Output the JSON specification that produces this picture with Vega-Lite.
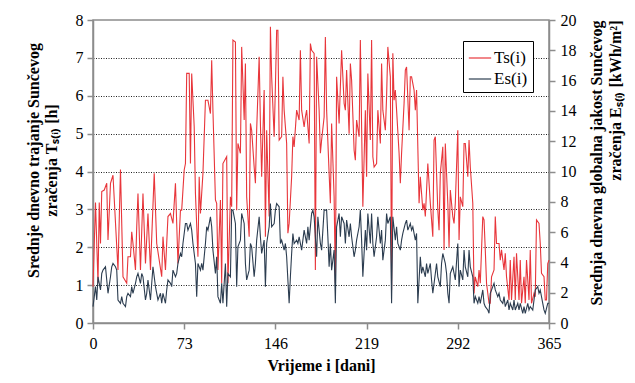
{
  "$schema": "https://vega.github.io/schema/vega-lite/v6.json",
  "autosize": "none",
  "width": 456,
  "height": 303,
  "padding": {"left": 93, "top": 20, "right": 86, "bottom": 60},
  "background": "white",
  "config": {
    "font": "Liberation Serif",
    "view": {"stroke": "#8c8c8c", "strokeWidth": 1.5},
    "axis": {
      "labelFont": "Liberation Serif", "labelFontSize": 16, "labelColor": "black",
      "titleFont": "Liberation Serif", "titleFontSize": 16, "titleFontWeight": "bold", "titleColor": "black",
      "domainColor": "#8c8c8c", "domainWidth": 1.5, "tickColor": "#8c8c8c", "tickWidth": 1.5, "tickSize": 6
    }
  },
  "datasets": {
    "ts": [
      {"d":0,"v":0.96},{"d":2,"v":3.18},{"d":4,"v":1.05},{"d":5,"v":3.18},{"d":6,"v":2.10},{"d":7,"v":3.47},{"d":9,"v":3.51},{"d":11,"v":3.69},{"d":12,"v":2.19},{"d":14,"v":3.69},{"d":16,"v":3.90},{"d":20,"v":1.40},{"d":22,"v":4.05},{"d":24,"v":1.22},{"d":27,"v":1.05},{"d":28,"v":1.75},{"d":30,"v":1.75},{"d":31,"v":2.41},{"d":32,"v":2.10},{"d":34,"v":1.40},{"d":35,"v":2.54},{"d":36,"v":3.42},{"d":38,"v":1.40},{"d":40,"v":3.42},{"d":42,"v":1.57},{"d":44,"v":2.89},{"d":46,"v":1.40},{"d":49,"v":3.95},{"d":51,"v":2.10},{"d":55,"v":1.22},{"d":56,"v":2.28},{"d":58,"v":1.40},{"d":60,"v":2.81},{"d":62,"v":2.89},{"d":64,"v":2.63},{"d":66,"v":3.69},{"d":68,"v":1.57},{"d":70,"v":2.98},{"d":71,"v":2.98},{"d":73,"v":4.04},{"d":74,"v":4.21},{"d":75,"v":6.59},{"d":77,"v":6.59},{"d":78,"v":4.21},{"d":79,"v":6.59},{"d":81,"v":5.18},{"d":82,"v":3.42},{"d":84,"v":1.75},{"d":85,"v":3.86},{"d":86,"v":2.89},{"d":88,"v":3.95},
      {"d":90,"v":5.88},{"d":92,"v":5.88},{"d":94,"v":5.53},{"d":95,"v":6.94},{"d":96,"v":5.62},{"d":98,"v":3.25},{"d":99,"v":3.16},{"d":100,"v":1.40},{"d":102,"v":3.25},{"d":103,"v":1.05},{"d":104,"v":4.21},{"d":107,"v":4.39},{"d":108,"v":1.05},{"d":110,"v":3.33},{"d":111,"v":3.07},{"d":112,"v":7.47},{"d":114,"v":7.42},{"d":115,"v":2.98},{"d":116,"v":4.74},{"d":118,"v":4.48},{"d":119,"v":7.29},{"d":121,"v":5.36},{"d":122,"v":6.85},{"d":123,"v":3.33},{"d":125,"v":2.28},{"d":126,"v":5.27},{"d":127,"v":5.09},{"d":129,"v":4.12},{"d":130,"v":3.69},{"d":131,"v":5.09},{"d":133,"v":7.03},{"d":134,"v":5.27},{"d":135,"v":3.86},{"d":137,"v":6.15},{"d":138,"v":2.28},{"d":139,"v":5.09},{"d":141,"v":2.81},{"d":142,"v":7.82},{"d":143,"v":6.50},{"d":145,"v":4.92},{"d":146,"v":6.24},{"d":147,"v":7.73},{"d":148,"v":7.73},{"d":149,"v":4.83},{"d":151,"v":4.92},{"d":152,"v":6.50},{"d":153,"v":5.62},{"d":155,"v":4.74},{"d":156,"v":2.37},{"d":157,"v":2.63},{"d":159,"v":3.86},{"d":160,"v":4.92},{"d":161,"v":4.65},{"d":163,"v":5.62},{"d":165,"v":5.36},{"d":166,"v":7.20},{"d":167,"v":5.62},{"d":169,"v":5.18},{"d":170,"v":5.44},{"d":171,"v":5.62},{"d":173,"v":4.74},{"d":174,"v":7.38},{"d":175,"v":7.20},{"d":177,"v":7.12},{"d":178,"v":1.40},{"d":179,"v":7.03},{"d":181,"v":5.62},{"d":182,"v":4.48},{"d":183,"v":4.83},{"d":185,"v":5.44},{"d":186,"v":7.55},
      {"d":187,"v":5.62},{"d":189,"v":3.95},{"d":190,"v":3.16},{"d":191,"v":5.27},{"d":193,"v":3.33},{"d":194,"v":1.05},{"d":195,"v":6.50},{"d":197,"v":5.27},{"d":198,"v":6.24},{"d":199,"v":7.20},{"d":201,"v":5.80},{"d":202,"v":5.62},{"d":203,"v":6.68},{"d":205,"v":5.00},{"d":206,"v":6.85},{"d":207,"v":6.41},{"d":209,"v":4.56},{"d":210,"v":4.30},{"d":211,"v":5.36},{"d":213,"v":4.92},{"d":214,"v":7.47},{"d":215,"v":5.18},{"d":216,"v":3.07},{"d":218,"v":5.62},{"d":219,"v":3.86},{"d":220,"v":6.59},{"d":222,"v":4.83},{"d":223,"v":7.47},{"d":224,"v":4.39},{"d":225,"v":4.12},{"d":227,"v":4.21},{"d":228,"v":5.62},{"d":230,"v":4.74},{"d":231,"v":6.85},{"d":232,"v":5.62},{"d":234,"v":5.09},{"d":235,"v":5.97},{"d":236,"v":7.29},{"d":238,"v":6.50},{"d":239,"v":0.87},{"d":240,"v":7.12},{"d":241,"v":5.88},{"d":242,"v":6.15},{"d":243,"v":5.62},{"d":245,"v":4.48},{"d":246,"v":3.69},{"d":247,"v":4.48},{"d":249,"v":5.80},{"d":250,"v":6.68},{"d":251,"v":6.76},{"d":253,"v":5.09},{"d":254,"v":6.50},{"d":255,"v":6.50},{"d":257,"v":6.15},{"d":258,"v":5.62},{"d":259,"v":6.15},{"d":261,"v":3.16},{"d":262,"v":3.86},{"d":264,"v":2.98},{"d":265,"v":3.16},{"d":266,"v":2.81},{"d":268,"v":4.21},{"d":269,"v":3.69},{"d":270,"v":3.16},{"d":272,"v":2.28},{"d":273,"v":4.83},{"d":274,"v":4.92},{"d":276,"v":2.98},{"d":277,"v":2.45},{"d":278,"v":3.95},{"d":280,"v":4.65},{"d":281,"v":1.93},{"d":282,"v":4.74},{"d":284,"v":3.16},
      {"d":285,"v":2.01},{"d":286,"v":3.51},{"d":288,"v":2.81},{"d":289,"v":2.63},{"d":290,"v":3.16},{"d":292,"v":5.09},{"d":293,"v":2.19},{"d":294,"v":3.33},{"d":296,"v":3.07},{"d":297,"v":4.74},{"d":298,"v":4.74},{"d":300,"v":3.86},{"d":301,"v":4.83},{"d":302,"v":4.12},{"d":304,"v":3.16},{"d":305,"v":0.78},{"d":306,"v":1.22},{"d":308,"v":0.96},{"d":309,"v":1.40},{"d":310,"v":1.05},{"d":312,"v":2.81},{"d":313,"v":2.72},{"d":314,"v":1.93},{"d":315,"v":1.05},{"d":317,"v":0.52},{"d":318,"v":0.52},{"d":319,"v":1.22},{"d":321,"v":1.40},{"d":322,"v":2.81},{"d":323,"v":2.10},{"d":325,"v":2.10},{"d":326,"v":1.66},{"d":327,"v":1.93},{"d":329,"v":1.40},{"d":330,"v":1.84},{"d":331,"v":1.22},{"d":333,"v":0.61},{"d":334,"v":1.66},{"d":335,"v":0.61},{"d":337,"v":1.75},{"d":338,"v":0.61},{"d":339,"v":1.84},{"d":341,"v":0.61},{"d":342,"v":1.66},{"d":343,"v":0.52},{"d":345,"v":1.22},{"d":346,"v":0.52},{"d":347,"v":1.66},{"d":349,"v":0.61},{"d":350,"v":1.93},{"d":351,"v":0.52},{"d":353,"v":0.78},{"d":354,"v":0.69},{"d":355,"v":2.72},{"d":357,"v":2.63},{"d":358,"v":2.10},{"d":359,"v":1.31},{"d":361,"v":1.22},{"d":362,"v":0.61},{"d":363,"v":0.61},{"d":364,"v":1.57},{"d":365,"v":1.66}
    ],
    "es": [
      {"d":0,"v":1.08},{"d":2,"v":2.40},{"d":3,"v":1.52},{"d":4,"v":3.05},{"d":6,"v":2.18},{"d":7,"v":3.27},{"d":8,"v":3.49},{"d":10,"v":3.71},{"d":11,"v":2.84},{"d":12,"v":1.96},{"d":14,"v":3.05},{"d":15,"v":3.71},{"d":16,"v":3.93},{"d":18,"v":3.71},{"d":19,"v":3.49},{"d":20,"v":1.52},{"d":22,"v":1.30},{"d":23,"v":1.74},{"d":24,"v":1.30},{"d":26,"v":1.08},{"d":27,"v":1.74},{"d":28,"v":1.96},{"d":30,"v":1.74},{"d":31,"v":2.40},{"d":32,"v":1.96},{"d":34,"v":2.62},{"d":35,"v":3.05},{"d":36,"v":3.27},{"d":38,"v":2.62},{"d":39,"v":3.27},{"d":40,"v":3.05},{"d":42,"v":1.52},{"d":43,"v":1.96},{"d":44,"v":2.84},{"d":46,"v":1.52},{"d":47,"v":2.62},{"d":48,"v":3.71},{"d":50,"v":2.40},{"d":51,"v":1.96},{"d":52,"v":1.52},{"d":54,"v":1.96},{"d":55,"v":1.30},{"d":56,"v":1.96},{"d":58,"v":1.30},{"d":59,"v":2.18},{"d":60,"v":2.84},{"d":62,"v":2.62},{"d":63,"v":2.40},{"d":64,"v":3.49},{"d":66,"v":3.05},{"d":67,"v":3.27},{"d":68,"v":3.93},{"d":70,"v":4.59},{"d":71,"v":4.37},{"d":72,"v":5.25},{"d":74,"v":6.57},{"d":75,"v":6.57},{"d":76,"v":6.13},{"d":78,"v":6.57},{"d":79,"v":6.13},{"d":80,"v":5.25},{"d":82,"v":3.93},{"d":83,"v":1.74},{"d":84,"v":3.93},{"d":86,"v":3.49},{"d":87,"v":3.93},{"d":88,"v":3.49},{"d":90,"v":5.25},{"d":91,"v":6.35},
      {"d":92,"v":6.13},{"d":94,"v":7.01},{"d":95,"v":6.35},{"d":96,"v":4.81},{"d":98,"v":3.27},{"d":99,"v":4.37},{"d":100,"v":1.74},{"d":102,"v":1.30},{"d":103,"v":2.62},{"d":104,"v":1.30},{"d":106,"v":3.93},{"d":107,"v":1.08},{"d":108,"v":3.27},{"d":110,"v":3.05},{"d":111,"v":7.45},{"d":112,"v":7.45},{"d":114,"v":6.57},{"d":115,"v":2.40},{"d":116,"v":5.03},{"d":118,"v":5.47},{"d":119,"v":7.23},{"d":121,"v":6.57},{"d":122,"v":3.93},{"d":123,"v":2.84},{"d":125,"v":3.49},{"d":126,"v":5.25},{"d":127,"v":5.03},{"d":129,"v":3.05},{"d":130,"v":3.93},{"d":131,"v":5.47},{"d":133,"v":7.01},{"d":134,"v":5.69},{"d":135,"v":4.59},{"d":137,"v":5.47},{"d":138,"v":2.40},{"d":139,"v":5.25},{"d":141,"v":6.35},{"d":142,"v":7.89},{"d":143,"v":6.35},{"d":145,"v":6.57},{"d":146,"v":7.45},{"d":147,"v":7.89},{"d":149,"v":7.67},{"d":150,"v":5.25},{"d":151,"v":5.47},{"d":153,"v":4.81},{"d":154,"v":5.25},{"d":155,"v":4.37},{"d":157,"v":1.30},{"d":158,"v":3.05},{"d":159,"v":4.59},{"d":160,"v":5.91},{"d":161,"v":5.25},{"d":163,"v":5.47},{"d":164,"v":5.25},{"d":165,"v":5.69},{"d":167,"v":4.81},{"d":168,"v":5.47},{"d":169,"v":6.13},{"d":171,"v":5.25},{"d":172,"v":6.35},{"d":173,"v":5.47},{"d":175,"v":7.23},{"d":176,"v":7.45},{"d":177,"v":7.01},{"d":179,"v":4.37},{"d":180,"v":7.01},{"d":182,"v":5.25},{"d":183,"v":4.81},{"d":184,"v":6.13},{"d":185,"v":7.45},{"d":187,"v":7.45},{"d":188,"v":5.69},{"d":189,"v":3.71},
      {"d":190,"v":5.25},{"d":191,"v":3.49},{"d":193,"v":4.81},{"d":194,"v":1.30},{"d":195,"v":6.35},{"d":197,"v":7.23},{"d":198,"v":5.69},{"d":199,"v":7.01},{"d":201,"v":6.57},{"d":202,"v":5.25},{"d":203,"v":6.79},{"d":205,"v":5.69},{"d":206,"v":6.57},{"d":207,"v":5.69},{"d":209,"v":4.37},{"d":210,"v":4.81},{"d":211,"v":5.47},{"d":213,"v":6.35},{"d":214,"v":7.45},{"d":215,"v":5.47},{"d":216,"v":3.05},{"d":218,"v":6.13},{"d":219,"v":4.81},{"d":220,"v":7.23},{"d":222,"v":5.25},{"d":223,"v":7.23},{"d":224,"v":5.25},{"d":225,"v":4.37},{"d":227,"v":5.69},{"d":228,"v":7.01},{"d":230,"v":5.25},{"d":231,"v":6.13},{"d":232,"v":4.15},{"d":234,"v":5.47},{"d":235,"v":7.23},{"d":236,"v":6.57},{"d":238,"v":7.01},{"d":239,"v":1.30},{"d":240,"v":7.01},{"d":242,"v":5.47},{"d":243,"v":6.35},{"d":244,"v":5.25},{"d":246,"v":4.81},{"d":247,"v":5.47},{"d":248,"v":5.91},{"d":250,"v":6.57},{"d":251,"v":6.79},{"d":252,"v":6.13},{"d":254,"v":6.57},{"d":255,"v":6.13},{"d":256,"v":6.35},{"d":258,"v":5.47},{"d":259,"v":5.91},{"d":260,"v":1.30},{"d":262,"v":4.37},{"d":263,"v":3.27},{"d":264,"v":3.71},{"d":266,"v":3.05},{"d":267,"v":3.93},{"d":268,"v":3.27},{"d":270,"v":3.93},{"d":271,"v":2.84},{"d":272,"v":1.96},{"d":274,"v":3.27},{"d":275,"v":3.93},{"d":276,"v":3.05},{"d":278,"v":2.40},{"d":279,"v":3.93},{"d":280,"v":4.59},{"d":282,"v":3.93},{"d":283,"v":3.27},{"d":284,"v":1.96},
      {"d":285,"v":1.30},{"d":286,"v":3.27},{"d":288,"v":3.71},{"d":289,"v":3.27},{"d":290,"v":2.84},{"d":292,"v":5.25},{"d":293,"v":2.40},{"d":294,"v":3.49},{"d":296,"v":2.84},{"d":297,"v":4.81},{"d":298,"v":3.71},{"d":300,"v":3.05},{"d":301,"v":4.81},{"d":302,"v":3.71},{"d":304,"v":3.05},{"d":305,"v":1.30},{"d":306,"v":1.74},{"d":308,"v":1.30},{"d":309,"v":1.74},{"d":310,"v":1.30},{"d":312,"v":2.18},{"d":313,"v":1.30},{"d":314,"v":1.08},{"d":316,"v":0.86},{"d":317,"v":0.64},{"d":318,"v":1.96},{"d":320,"v":2.40},{"d":321,"v":2.62},{"d":322,"v":2.18},{"d":324,"v":1.74},{"d":325,"v":1.96},{"d":326,"v":1.52},{"d":328,"v":1.30},{"d":329,"v":1.74},{"d":330,"v":1.08},{"d":332,"v":1.52},{"d":333,"v":0.86},{"d":334,"v":1.30},{"d":336,"v":0.86},{"d":337,"v":1.52},{"d":338,"v":0.86},{"d":340,"v":1.30},{"d":341,"v":0.86},{"d":342,"v":1.30},{"d":344,"v":0.64},{"d":345,"v":1.08},{"d":346,"v":0.64},{"d":348,"v":1.30},{"d":349,"v":0.86},{"d":350,"v":1.08},{"d":352,"v":0.86},{"d":353,"v":1.52},{"d":354,"v":2.18},{"d":356,"v":2.40},{"d":357,"v":1.96},{"d":358,"v":2.18},{"d":360,"v":1.30},{"d":361,"v":0.86},{"d":362,"v":0.64},{"d":364,"v":1.30},{"d":365,"v":1.30}
    ]
  },
  "layer": [
    {
      "data": {"name": "ts"},
      "mark": {"type": "line", "strokeWidth": 1.1},
      "encoding": {
        "x": {
          "field": "d", "type": "quantitative",
          "scale": {"domain": [0, 365], "nice": false, "zero": false},
          "axis": {
            "values": [0, 73, 146, 219, 292, 365], "grid": false,
            "labelPadding": 6, "labelFlush": false,
            "title": "Vrijeme i [dani]", "titlePadding": 6
          }
        },
        "y": {
          "field": "v", "type": "quantitative",
          "scale": {"domain": [0, 8], "nice": false},
          "axis": {
            "orient": "left", "values": [0, 1, 2, 3, 4, 5, 6, 7, 8],
            "labelPadding": 4,
            "grid": true, "gridDash": [1, 1.5], "gridWidth": 1,
            "gridColor": {"condition": {"test": "datum.value == 0 || datum.value == 8", "value": "transparent"}, "value": "#222222"},
            "title": ["Srednje dnevno trajanje  Sunčevog", "zračenja Tₛ₍ᵢ₎ [h]"],
            "titleAngle": -90, "titleAlign": "center", "titleBaseline": "middle",
            "titleX": -60, "titleY": 140, "titleLineHeight": 18
          }
        },
        "color": {
          "datum": "Ts(i)", "type": "nominal",
          "scale": {"domain": ["Ts(i)", "Es(i)"], "range": ["#e8363b", "#2c3d50"]},
          "legend": {
            "orient": "none", "legendX": 370, "legendY": 21,
            "title": null, "symbolType": "stroke", "symbolSize": 500, "symbolStrokeWidth": 1.2,
            "labelFont": "Liberation Serif", "labelFontSize": 17, "labelColor": "black", "labelOffset": 2,
            "strokeColor": "black", "fillColor": "white", "padding": 5, "rowPadding": 1
          }
        }
      }
    },
    {
      "data": {"name": "es"},
      "mark": {"type": "line", "strokeWidth": 1.1},
      "encoding": {
        "x": {"field": "d", "type": "quantitative"},
        "y": {
          "field": "v", "type": "quantitative",
          "scale": {"domain": [0, 20], "nice": false},
          "axis": {
            "orient": "right", "values": [0, 2, 4, 6, 8, 10, 12, 14, 16, 18, 20],
            "labelPadding": 5, "grid": false,
            "title": ["Srednja dnevna globalna jakost Sunčevog", "zračenja Eₛ₍ᵢ₎ [kWh/m²]"],
            "titleAngle": -90, "titleAlign": "right", "titleBaseline": "middle",
            "titleX": 47, "titleY": 0, "titleLineHeight": 19
          }
        },
        "color": {"datum": "Es(i)", "type": "nominal"}
      }
    }
  ],
  "resolve": {"scale": {"y": "independent"}, "axis": {"y": "independent"}}
}
